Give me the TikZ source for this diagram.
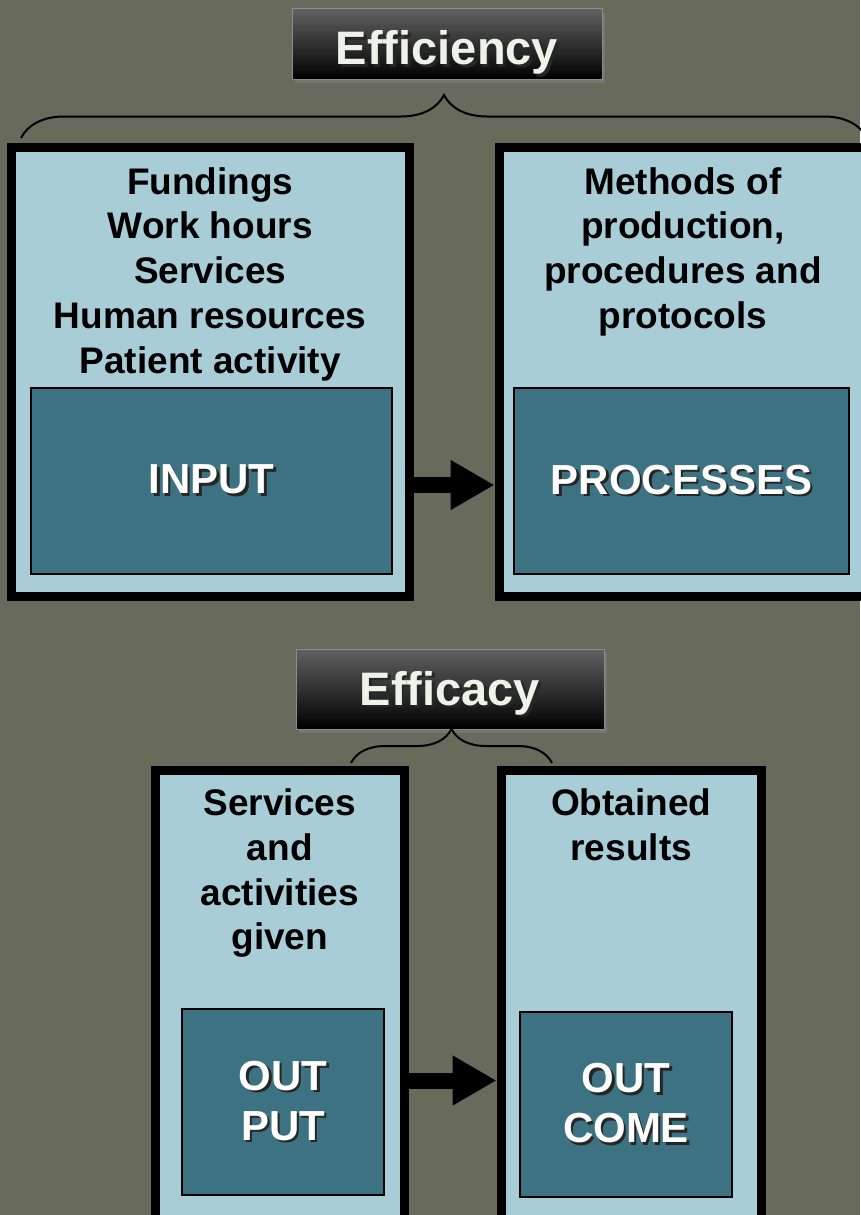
\documentclass[tikz,border=0pt]{standalone}
\usepackage{fontspec}
\setsansfont{Liberation Sans}
\usepackage{tikz}
\usetikzlibrary{positioning}
\usetikzlibrary{shadows,arrows.meta,decorations.pathreplacing}
\definecolor{bgolive}{HTML}{686A5C}
\definecolor{paleblue}{HTML}{A8CDD6}
\definecolor{darkteal}{HTML}{3D7282}
\definecolor{labeltext}{HTML}{EEF2E8}
\newcommand{\Shadowed}[1]{\makebox[0pt][l]{\hspace{2.5pt}\raisebox{-2.5pt}{\color{black!85}#1}}#1}
\tikzset{
	outerbox/.style={draw=black, line width=9pt, fill=paleblue},
	innerbox/.style={draw=black, line width=2pt, fill=darkteal, text=white, align=center, font=\fontsize{42pt}{50pt}\selectfont},
	boxtext/.style={align=center, inner sep=0pt, font=\fontsize{37pt}{44.8pt}\selectfont},
	titlebox/.style={top color=black!62, bottom color=black, draw=black!45, line width=1pt, text=labeltext, text depth=0pt, font=\fontsize{47pt}{50pt}\selectfont, drop shadow={opacity=.55, shadow xshift=3pt, shadow yshift=-4pt}},
	bigarrow/.style={line width=16pt, -{Triangle[length=44pt,width=47pt]}},
	curly/.style={line width=2pt, decorate, decoration={brace, amplitude=#1}}
}

\begin{document}
\begin{tikzpicture}[x=1pt, y=1pt]
			\sffamily\bfseries
			\useasboundingbox[fill=bgolive] (0,0) rectangle (860,-1215);
			\node[titlebox, text height=42pt, minimum width=310pt, minimum height=70pt] (Efficiency) at (447,-44) {\Shadowed{Efficiency}};
			\node[outerbox, minimum width=397.5pt, minimum height=448.5pt] (InputBox) at (210.25,-371.75) {};
			\node[outerbox, minimum width=368pt, minimum height=448.5pt] (ProcessBox) at (683,-371.75) {};
			\node[boxtext, below=24pt of InputBox.north] (InputList) {Fundings\\Work hours\\Services\\Human resources\\Patient activity};
			\node[boxtext, below=24pt of ProcessBox.north] (ProcessList) {Methods of\\production,\\procedures and\\protocols};
			\node[innerbox, minimum width=361pt, minimum height=186pt] (Input) at (211.5,-481) {\Shadowed{INPUT}};
			\node[innerbox, minimum width=335pt, minimum height=186pt] (Process) at (681.5,-481) {\Shadowed{PROCESSES}};
			\coordinate (InMid) at (450,-485);
			\draw[bigarrow] (InputBox.east |- InMid) -- (ProcessBox.west |- InMid);
			\coordinate (TopBraceL) at (21,-138);
			\coordinate (TopBraceR) at (867,-138);
			\draw[curly=43pt] (TopBraceL) -- (TopBraceR);
			\node[titlebox, text height=32pt, minimum width=308pt, minimum height=80pt] (Efficacy) at (450,-689) {\Shadowed{Efficacy}};
			\node[outerbox, minimum width=249.5pt, minimum height=470pt] (OutputBox) at (279.75,-1005) {};
			\node[outerbox, minimum width=260.5pt, minimum height=470pt] (OutcomeBox) at (631.25,-1005) {};
			\node[boxtext, below=23pt of OutputBox.north] (OutputList) {Services\\and\\activities\\given};
			\node[boxtext, below=23pt of OutcomeBox.north] (OutcomeList) {Obtained\\results};
			\node[innerbox, minimum width=202pt, minimum height=186pt] (Output) at (283,-1102) {\Shadowed{OUT}\\\Shadowed{PUT}};
			\node[innerbox, minimum width=212pt, minimum height=185pt] (Outcome) at (626,-1104.5) {\Shadowed{OUT}\\\Shadowed{COME}};
			\coordinate (OutMid) at (450,-1080.5);
			\draw[bigarrow] (OutputBox.east |- OutMid) -- (OutcomeBox.west |- OutMid);
			\coordinate (LowBraceL) at (351,-763);
			\coordinate (LowBraceR) at (552,-763);
			\draw[curly=34pt] (LowBraceL) -- (LowBraceR);
		\end{tikzpicture}
\end{document}
